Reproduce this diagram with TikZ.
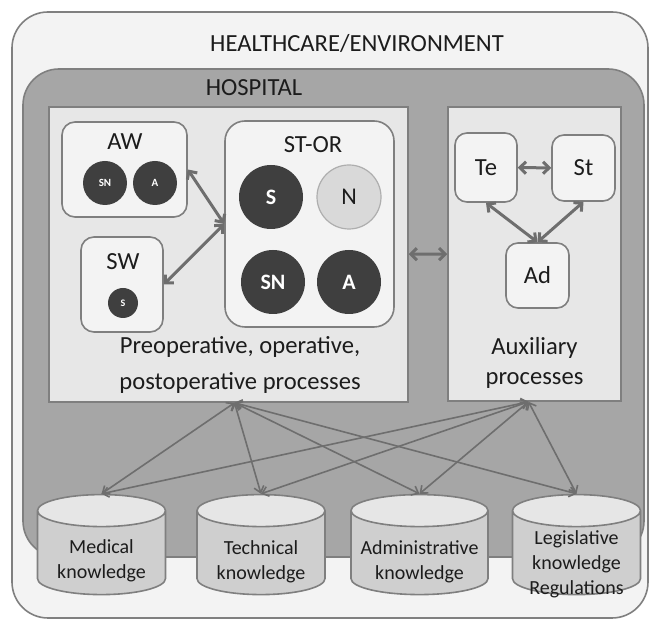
\documentclass[tikz,border=0pt]{standalone}
\usepackage{fontspec}
\setmainfont{Carlito}
\usetikzlibrary{shapes.geometric,arrows.meta}
\definecolor{frame}{HTML}{7F7F7F}
\definecolor{envfill}{HTML}{F3F3F3}
\definecolor{hospfill}{HTML}{A6A6A6}
\definecolor{procfill}{HTML}{E7E7E7}
\definecolor{unitfill}{HTML}{F3F3F3}
\definecolor{staff}{HTML}{3F3F3F}
\definecolor{nurse}{HTML}{D9D9D9}
\definecolor{link}{HTML}{6E6E6E}
\definecolor{dbbody}{HTML}{CFCFCF}
\definecolor{dbtop}{HTML}{E6E6E6}
\definecolor{ink}{HTML}{1C1C1C}
\newcommand{\capwidth}{\makebox[50pt]{}}
\tikzset{
  container/.style={draw=frame,line width=0.8pt,rounded corners=18pt},
  procbox/.style={draw=frame,line width=0.8pt,fill=procfill,inner sep=0pt},
  unitbox/.style={draw=frame,line width=0.8pt,fill=unitfill,inner sep=0pt,text=ink,font=\fontsize{12.3}{15}\selectfont},
  caption/.style={text=ink,font=\fontsize{12.3}{15}\selectfont,inner sep=0pt},
  crew/.style={circle,fill=staff,text=white,inner sep=0pt,minimum size=22pt,font=\bfseries\fontsize{5.5}{6}\selectfont},
  lead/.style={circle,fill=staff,text=white,inner sep=0pt,minimum size=32pt,font=\bfseries\fontsize{11}{12}\selectfont},
  store/.style={cylinder,shape border rotate=90,aspect=0.32,draw=frame,line width=0.8pt,
    cylinder uses custom fill,cylinder body fill=dbbody,cylinder end fill=dbtop,
    minimum width=64pt,minimum height=50pt,inner sep=0pt},
  storetext/.style={align=center,text=ink,inner sep=0pt,font=\fontsize{10}{12.5}\selectfont},
  twoway/.style={{Straight Barb[length=3pt,width=6pt]}-{Straight Barb[length=3pt,width=6pt]},draw=link,line width=1.5pt},
  feed/.style={{Straight Barb[length=3pt,width=5pt]}-{Straight Barb[length=3pt,width=5pt]},draw=link,line width=0.8pt}
}
\begin{document}
\begin{tikzpicture}[x=0.5pt,y=-0.5pt]
\useasboundingbox (0,0) rectangle (649,619);

\draw[container,fill=envfill] (12,12) rectangle (648,618);
\draw[container,fill=hospfill] (23,69) rectangle (644,557);
\node[caption] (env) at (357,43) {HEALTHCARE/ENVIRONMENT};
\node[caption] (hosp) at (254,88) {HOSPITAL};

\node[procbox,minimum width=179.5pt,minimum height=147.5pt] (pre) at (228.5,254.5) {};
\node[procbox,minimum width=86.5pt,minimum height=147pt] (aux) at (534.5,254) {};

\node[unitbox,rounded corners=6.5pt,minimum width=62.5pt,minimum height=47.5pt] (aw) at (124.5,169.5) {};
\node[unitbox,rounded corners=6.5pt,minimum width=41pt,minimum height=47.5pt] (sw) at (122,284.5) {};
\node[unitbox,rounded corners=10pt,minimum width=84.5pt,minimum height=103pt] (stor) at (309.5,224) {};
\node[caption] (awname) at (125,142) {AW};
\node[caption] (swname) at (123,262) {SW};
\node[caption] (storname) at (313,145) {ST-OR};
\node[crew] (awsn) at (105,183) {SN};
\node[crew] (awa) at (155,183) {A};
\node[crew,minimum size=15pt,font=\bfseries\fontsize{5}{6}\selectfont] (sws) at (123,303) {S};
\node[lead] (ors) at (271,197) {S};
\node[lead,fill=nurse,draw=nurse!80!black,line width=0.6pt,text=ink,font=\fontsize{12}{13}\selectfont] (orn) at (349,197) {N};
\node[lead] (orsn) at (273,282) {SN};
\node[lead] (ora) at (349,282) {A};
\node[caption,align=center,font=\fontsize{12.3}{18}\selectfont] (pretext) at (240,365)
  {Preoperative, operative,\\postoperative processes};

\node[unitbox,rounded corners=6pt,minimum width=31pt,minimum height=34.5pt] (te) at (486,167.5) {Te};
\node[unitbox,rounded corners=6pt,minimum width=31.5pt,minimum height=33pt] (st) at (583.5,168) {St};
\node[unitbox,rounded corners=6pt,minimum width=31.5pt,minimum height=32.5pt] (ad) at (537.5,275.5) {Ad};
\node[caption,align=center] (auxtext) at (534.5,363) {Auxiliary\\processes};

\draw[twoway] (aw.east) -- (stor.west);
\draw[twoway] (sw.east) -- (stor.west);
\draw[twoway] (pre) -- (aux);
\draw[twoway] (te) -- (st);
\draw[twoway] (te.south) -- (ad.north);
\draw[twoway] (st.south) -- (ad.north);

\node[store] (med) at (101.5,553) {\capwidth};
\node[store] (tech) at (261,553) {\capwidth};
\node[store,minimum width=68.5pt] (adm) at (419.5,553) {\capwidth};
\node[store] (leg) at (576.5,553) {\capwidth};
\node[storetext] (medtext) at (101.5,561) {Medical\\knowledge};
\node[storetext] (techtext) at (261,562) {Technical\\knowledge};
\node[storetext] (admtext) at (419.5,562) {Administrative\\knowledge};
\node[storetext] (legtext) at (576.5,564) {Legislative\\knowledge\\Regulations};

\coordinate (hubl) at ([xshift=3pt]pre.south);
\coordinate (hubr) at ([xshift=-3pt]aux.south);
\foreach \k in {med,tech,adm,leg}{
  \draw[feed] (hubl) -- (\k.north);
  \draw[feed] (hubr) -- (\k.north);
}
\end{tikzpicture}
\end{document}
